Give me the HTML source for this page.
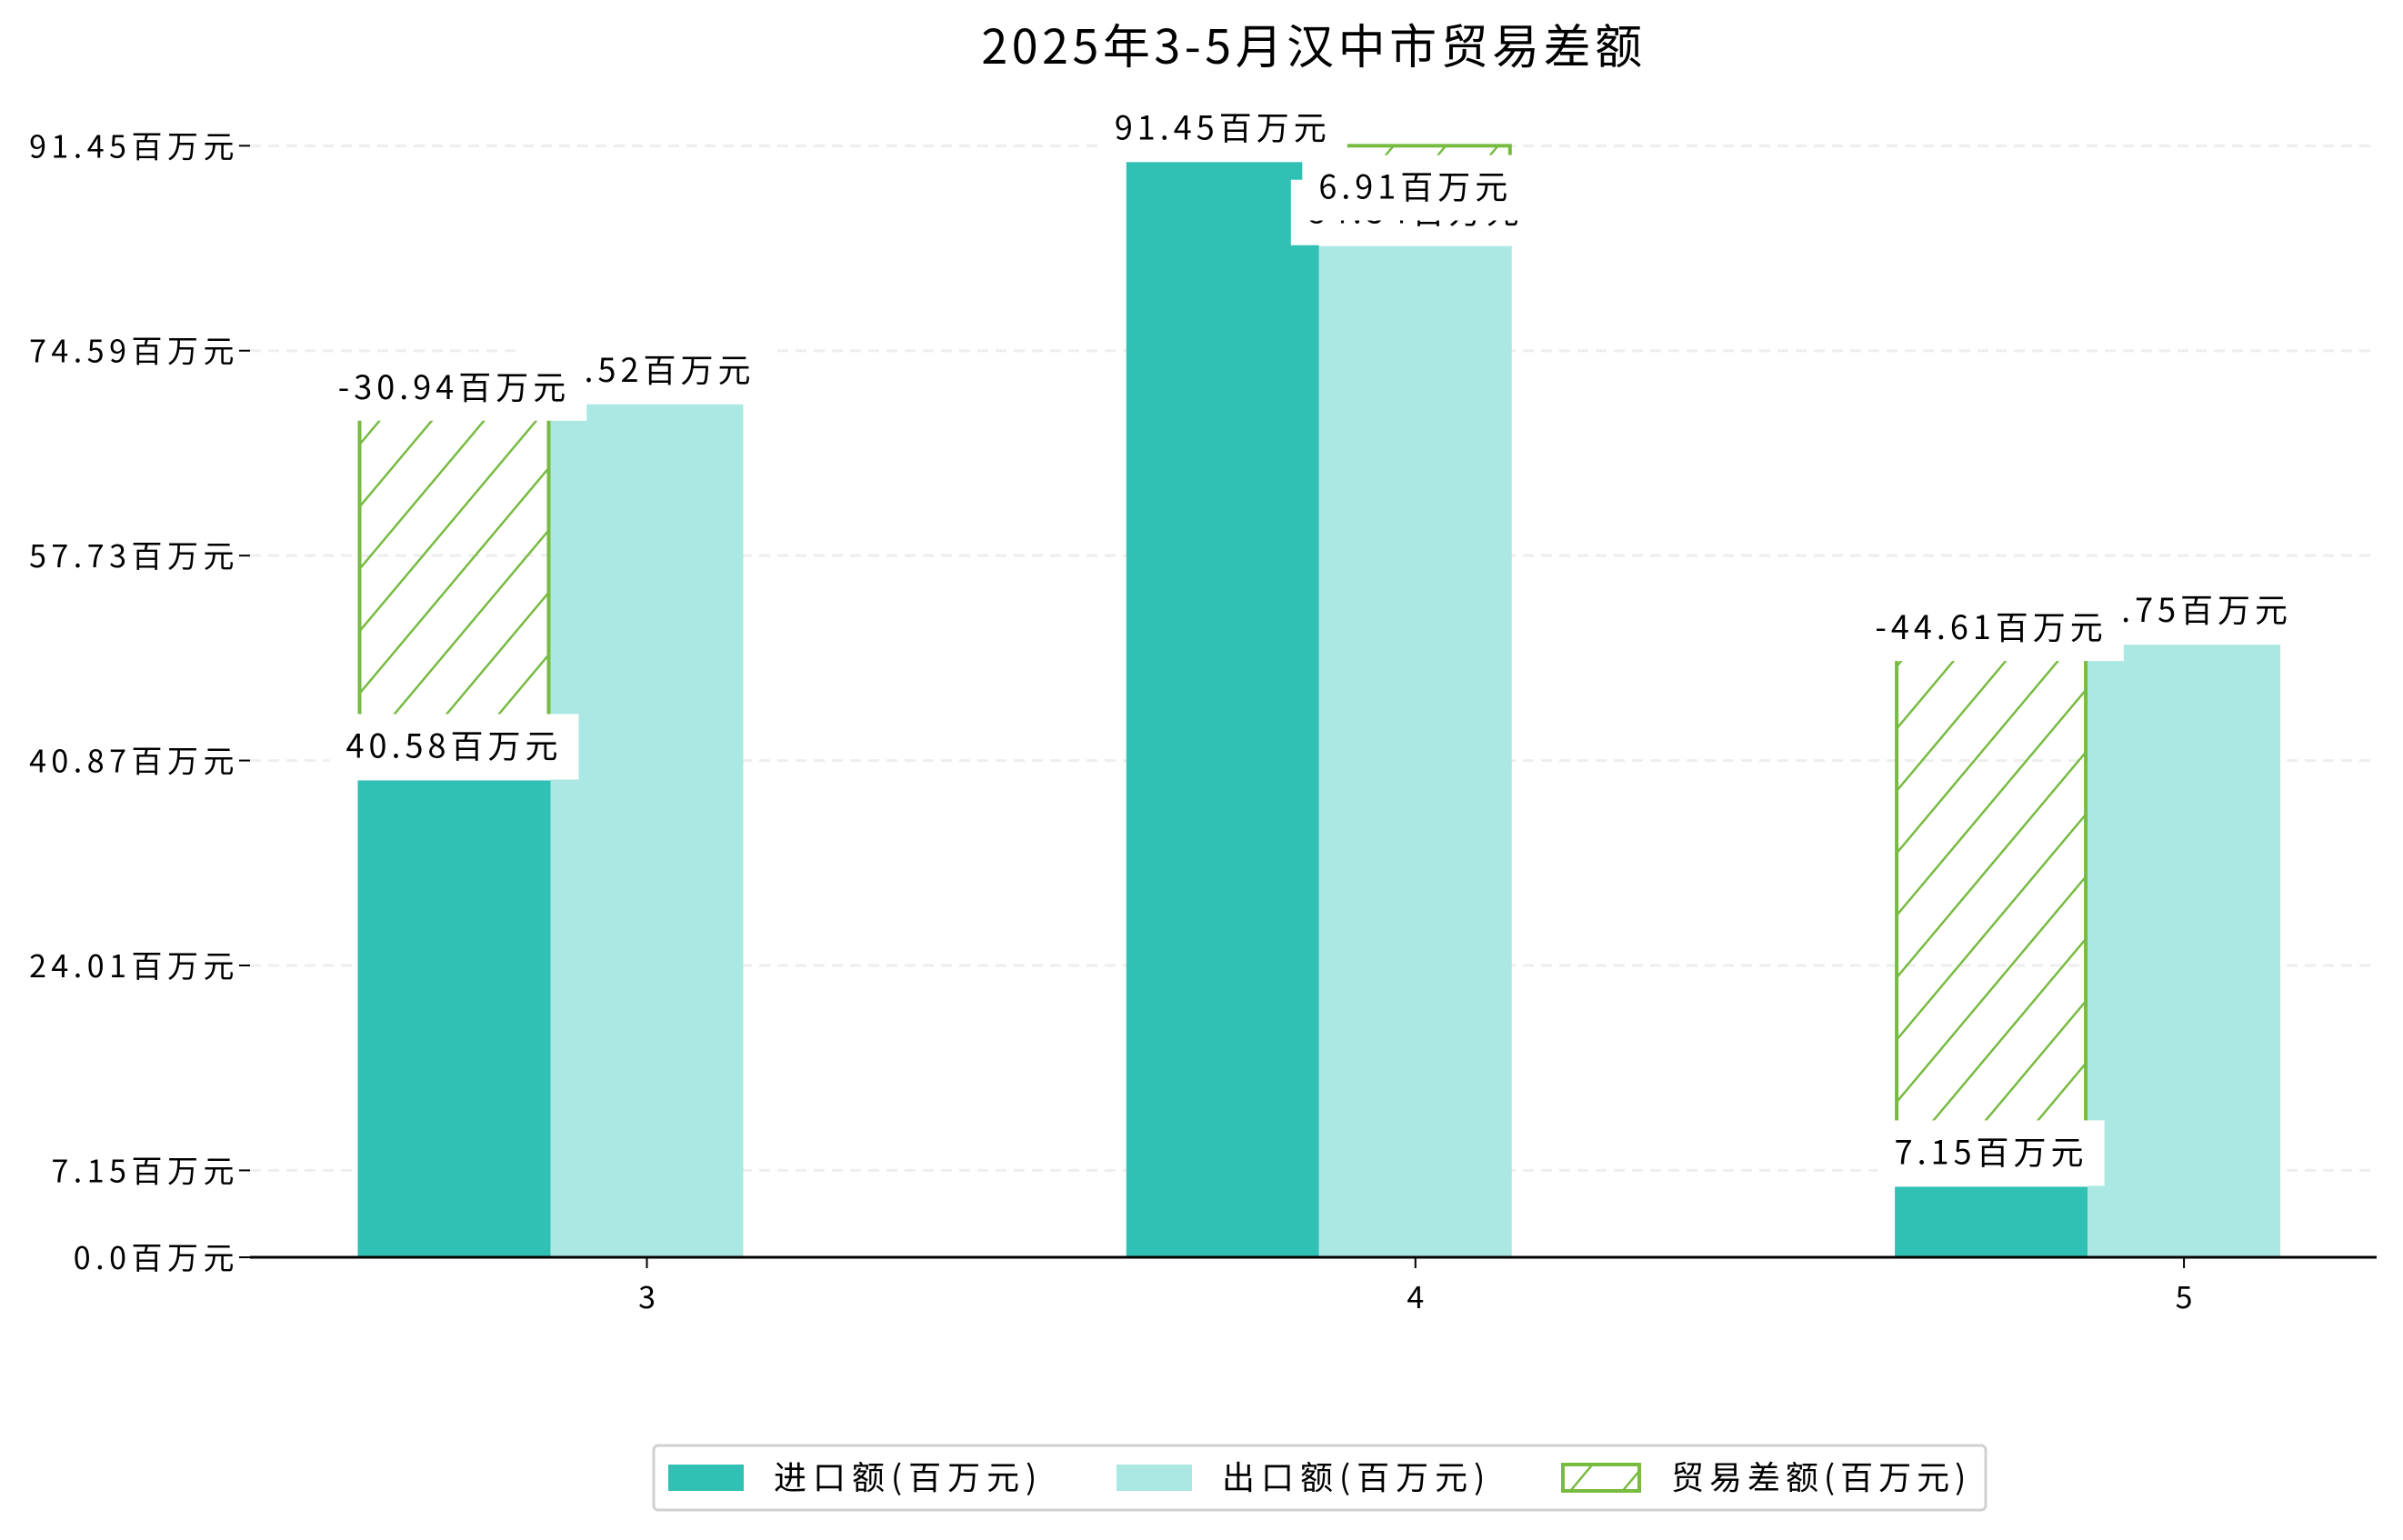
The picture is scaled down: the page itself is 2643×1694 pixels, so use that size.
<!DOCTYPE html>
<html><head><meta charset="utf-8"><style>
html,body{margin:0;padding:0;background:#fff}
svg text{font-family:"WenQuanYi Zen Hei","Noto Sans CJK SC","Liberation Sans",sans-serif}
</style></head><body>
<svg id="chart" width="2643" height="1689" viewBox="0 0 2643 1689" xmlns="http://www.w3.org/2000/svg">
<defs>
<pattern id="hatch" patternUnits="userSpaceOnUse" width="44" height="44" patternTransform="rotate(40)">
<line x1="0" y1="0" x2="0" y2="44" stroke="#77bb41" stroke-width="5"/>
</pattern>
</defs>
<text x="1445" y="70" font-size="52" letter-spacing="4.5" text-anchor="middle" fill="#000">2025年3-5月汉中市贸易差额</text>
<g id="grid"></g>
<g id="bars"></g>
<g id="labels"></g>
<g id="axes"></g>
<g>
<rect x="719" y="1590" width="1465" height="71" rx="5" fill="#fff" stroke="#d0d0d0" stroke-width="3"/>
<rect x="735" y="1611" width="83" height="29" fill="#31c0b4"/>
<text x="851" y="1638" font-size="36" letter-spacing="7">进口额(百万元)</text>
<rect x="1228" y="1611" width="83" height="29" fill="#abe8e3"/>
<text x="1344" y="1638" font-size="36" letter-spacing="7">出口额(百万元)</text>
<rect x="1719" y="1611" width="84" height="29" fill="url(#hatch)" stroke="#77bb41" stroke-width="4"/>
<text x="1838" y="1638" font-size="36" letter-spacing="6">贸易差额(百万元)</text>
</g>
</svg>
<script>
const categories = ['3', '4', '5'];
const importValues = [40.58, 91.45, 7.15];
const exportValues = [71.52, 84.54, 51.75];
const balanceValues = [-30.94, 6.91, -44.61];
const yTicks = [0.0, 7.15, 24.01, 40.87, 57.73, 74.59, 91.45];
const yTickLabels = ['0.0百万元', '7.15百万元', '24.01百万元', '40.87百万元', '57.73百万元', '74.59百万元', '91.45百万元'];

const NS = 'http://www.w3.org/2000/svg';
const Y0 = 1383, K = 13.37, BAROFF = 18, BW = 212;
const axL = 275, axR = 2614;
const centers0 = 711.5, step = 845.3;
function y(v){ return Y0 - v*K; }
function xc(i){ return centers0 + i*step; }
function mk(tag, attrs, parent){ const e=document.createElementNS(NS,tag); for(const k in attrs) e.setAttribute(k, attrs[k]); parent.appendChild(e); return e; }
const grid=document.getElementById('grid'), bars=document.getElementById('bars'), labels=document.getElementById('labels'), axes=document.getElementById('axes');

yTicks.forEach((t,i)=>{
  if(i>0){
    const g=mk('line',{x1:axL,x2:axR,y1:y(t),y2:y(t),stroke:'#eeeeee','stroke-width':3,'stroke-dasharray':'12 8'},grid);
    
    
  }
  const tk=mk('line',{x1:axL-12,x2:axL,y1:y(t),y2:y(t),stroke:'#000','stroke-width':2},axes);
  
  
  const lb=mk('text',{x:axL-12,y:y(t)+13,'font-size':34,'letter-spacing':5.5,'text-anchor':'end'},axes);
  lb.textContent=yTickLabels[i];
  
  
});
const ax=mk('line',{x1:axL,x2:axR,y1:Y0,y2:Y0,stroke:'#000','stroke-width':3},axes);


categories.forEach((c,i)=>{
  const tk=mk('line',{x1:xc(i),x2:xc(i),y1:Y0,y2:Y0+12,stroke:'#000','stroke-width':2},axes);
  
  
  const t=mk('text',{x:xc(i),y:Y0+56,'font-size':34,'text-anchor':'middle'},axes);
  t.textContent=c;
  
  
});

function label(txt, cx, cy, name){
  const g=mk('g',{},labels);
  
  
  const t=mk('text',{x:cx,y:cy+12,'font-size':36,'letter-spacing':5,'text-anchor':'middle'},g);
  t.textContent=txt;
  const w=t.getComputedTextLength ? t.getComputedTextLength() : txt.length*22;
  const r=mk('rect',{x:cx-w/2-18,y:cy-36,width:w+36,height:72,fill:'#fff'},g);
  g.insertBefore(r,t);
}

function impX(i){ return xc(i)-1.5*BW; }
function expX(i){ return xc(i)-0.5*BW; }

categories.forEach((c,i)=>{
  const ib=mk('rect',{x:impX(i),y:y(importValues[i])+BAROFF,width:BW,height:Y0-y(importValues[i])-BAROFF,fill:'#31c0b4'},bars);
  
  
  const eb=mk('rect',{x:expX(i),y:y(exportValues[i])+BAROFF,width:BW,height:Y0-y(exportValues[i])-BAROFF,fill:'#abe8e3'},bars);
  
  
  const lo=Math.min(importValues[i],exportValues[i]), hi=Math.max(importValues[i],exportValues[i]);
  const bx = importValues[i]<=exportValues[i] ? impX(i) : expX(i);
  const hb=mk('rect',{x:bx+2,y:y(hi),width:BW-4,height:y(lo)-y(hi),fill:'url(#hatch)',stroke:'#77bb41','stroke-width':4},bars);
  
  
});
categories.forEach((c,i)=>{
  label(exportValues[i]+'百万元', expX(i)+BW/2, y(exportValues[i])+BAROFF-37, 'export-value-label');
});
categories.forEach((c,i)=>{
  const lo=Math.min(importValues[i],exportValues[i]), hi=Math.max(importValues[i],exportValues[i]);
  const bx = importValues[i]<=exportValues[i] ? impX(i)+BW/2 : expX(i)+BW/2;
  const cy = balanceValues[i]<0 ? y(hi) : y((lo+hi)/2);
  label(balanceValues[i]+'百万元', bx, cy, 'balance-value-label');
});
categories.forEach((c,i)=>{
  label(importValues[i]+'百万元', impX(i)+BW/2, y(importValues[i])+BAROFF-37, 'import-value-label');
});
</script>
</body></html>
